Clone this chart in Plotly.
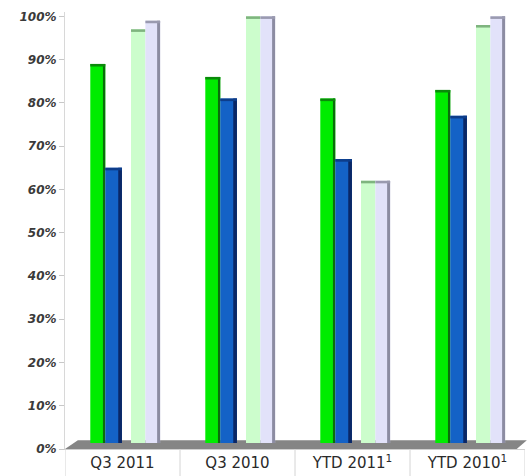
import plotly.graph_objects as go

categories = ["Q3 2011", "Q3 2010", "YTD 2011", "YTD 2010"]
cat_labels = ["Q3 2011", "Q3 2010", "YTD 2011<sup>1</sup>", "YTD 2010<sup>1</sup>"]
series_a = [89, 86, 81, 83]    # bright green
series_b = [65, 81, 67, 77]    # blue
series_c = [97, 100, 62, 98]   # light green
series_d = [99, 100, 62, 100]  # lavender
y_ticks = list(range(0, 101, 10))

styles = [
    # values, offset, width, face, side, top, side width
    (series_a, -0.280, 0.130, "#00ec00", "#0b6d0b", "#0a8a0a", 0.020),
    (series_b, -0.150, 0.145, "#1462c6", "#0a2766", "#0d3d8a", 0.032),
    (series_c, 0.074, 0.125, "#ccfdcc", "#a8dca8", "#7fb47f", 0.0),
    (series_d, 0.199, 0.128, "#e2e2fa", "#8c8ca2", "#9a9ab0", 0.026),
]

floor_base = 1.4

fig = go.Figure()
for vals, off, w, face, side, top, sw in styles:
    fig.add_trace(go.Bar(
        x=categories, y=[v - floor_base for v in vals], base=floor_base,
        offset=off, width=w, marker=dict(color=face, line=dict(width=0)),
        hoverinfo="skip", showlegend=False))
    if sw > 0:
        fig.add_trace(go.Bar(
            x=categories, y=[v - floor_base for v in vals], base=floor_base,
            offset=off + w - sw, width=sw, marker=dict(color=side, line=dict(width=0)),
            hoverinfo="skip", showlegend=False))
    fig.add_trace(go.Bar(
        x=categories, y=[0.6 for v in vals], base=[v - 0.6 for v in vals],
        offset=off, width=w, marker=dict(color=top, line=dict(width=0)),
        hoverinfo="skip", showlegend=False))

shapes = []
# grey floor
shapes.append(dict(type="path", xref="paper", yref="y",
                   path="M 0,0 L 0.982,0 L 1.004,2.0 L 0.028,2.0 Z",
                   fillcolor="#858585", line=dict(width=0), layer="below"))
# category dividers in label row
for i in range(len(categories) + 1):
    shapes.append(dict(type="line", xref="x", yref="paper",
                       x0=i - 0.5, x1=i - 0.5, y0=0, y1=-0.065,
                       line=dict(color="#d4d4d4", width=1)))

fig.update_layout(
    width=527, height=476,
    margin=dict(l=65, r=2, t=12, b=27),
    paper_bgcolor="white", plot_bgcolor="white",
    barmode="overlay",
    shapes=shapes,
    xaxis=dict(type="category", categoryorder="array", categoryarray=categories,
               tickvals=categories, ticktext=cat_labels,
               range=[-0.5, 3.5], showgrid=False, zeroline=False,
               showline=True, linecolor="#cfcfcf", ticks="",
               tickfont=dict(family="DejaVu Sans", size=15, color="#2a2a2a")),
    yaxis=dict(range=[0, 101], tickvals=y_ticks, ticktext=[f"{v}%" for v in y_ticks],
               showgrid=False, zeroline=False, showline=True, linecolor="#d8d8d8",
               ticks="outside", ticklen=5, tickcolor="#c8c8c8",
               tickfont=dict(family="DejaVu Sans", size=12, color="#3a3a3a",
                             style="italic", weight="bold")),
)

fig.write_html("out.html")
